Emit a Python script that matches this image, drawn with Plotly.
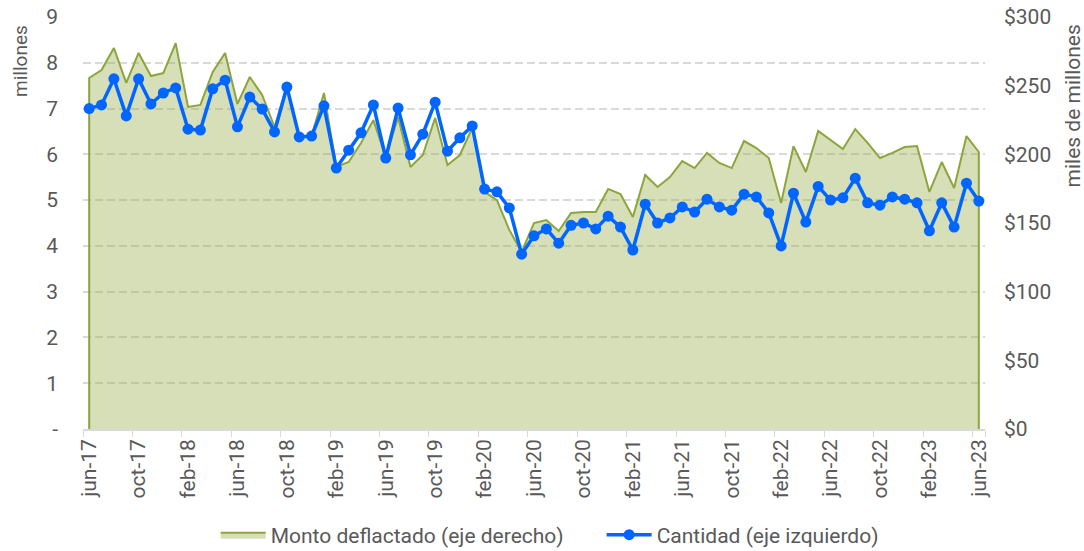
import pandas as pd
import plotly.graph_objects as go

# meses jun-17 .. jun-23
meses_es = ['ene', 'feb', 'mar', 'abr', 'may', 'jun', 'jul', 'ago', 'sep', 'oct', 'nov', 'dic']
fechas = pd.date_range('2017-06-01', '2023-06-01', freq='MS')
categorias = [f"{meses_es[d.month - 1]}-{d.strftime('%y')}" for d in fechas]

# Cantidad (millones, eje izquierdo)
cantidad = [7.00, 7.08, 7.65, 6.84, 7.65, 7.10, 7.34, 7.45, 6.55, 6.53, 7.43, 7.62,
            6.60, 7.25, 6.99, 6.49, 7.47, 6.38, 6.40, 7.06, 5.70, 6.09, 6.47, 7.08,
            5.92, 7.01, 5.99, 6.44, 7.14, 6.07, 6.36, 6.62, 5.24, 5.18, 4.83, 3.82,
            4.22, 4.37, 4.06, 4.45, 4.50, 4.37, 4.65, 4.41, 3.91, 4.91, 4.50, 4.61,
            4.85, 4.74, 5.02, 4.85, 4.78, 5.13, 5.07, 4.72, 4.00, 5.15, 4.52, 5.30,
            5.00, 5.05, 5.48, 4.94, 4.89, 5.07, 5.02, 4.94, 4.33, 4.94, 4.41, 5.37,
            4.98]

# Monto deflactado (miles de millones, eje derecho)
monto = [255.6, 261.4, 277.4, 252.0, 273.8, 257.0, 259.2, 281.0, 234.5, 236.0, 260.0, 273.8,
         236.7, 256.3, 243.2, 219.9, 249.5, 212.6, 213.3, 244.7, 190.8, 194.4, 208.3, 225.0,
         198.0, 227.0, 190.8, 199.5, 226.5, 192.2, 199.5, 219.2, 172.6, 166.7, 145.0, 128.9,
         150.0, 152.2, 144.2, 157.3, 158.0, 158.0, 174.8, 171.1, 154.4, 185.0, 176.2, 183.5,
         195.1, 190.0, 201.0, 193.7, 190.0, 209.7, 204.6, 197.3, 164.6, 206.0, 187.1, 217.0,
         210.4, 203.9, 218.4, 208.3, 197.3, 201.0, 205.3, 206.0, 172.6, 194.4, 175.5, 213.3,
         201.7]

etiquetas_x = categorias[::4]
ticks_izq = list(range(0, 10))
texto_izq = ['-'] + [str(v) for v in ticks_izq[1:]]
ticks_der = list(range(0, 301, 50))
texto_der = [f'${v}' for v in ticks_der]

gris = '#595959'
verde = '#8ca53c'
azul = '#0066ff'
fs = 21

fig = go.Figure()

# area cerrada hasta cero en los extremos (como en Excel)
fig.add_trace(go.Scatter(
    x=[categorias[0]] + categorias + [categorias[-1]],
    y=[0] + monto + [0],
    mode='lines',
    fill='tozeroy',
    fillcolor='rgba(152,175,75,0.4)',
    line=dict(color=verde, width=2),
    name='Monto deflactado (eje derecho)',
    yaxis='y',
))

fig.add_trace(go.Scatter(
    x=categorias,
    y=cantidad,
    mode='lines+markers',
    line=dict(color=azul, width=3.5),
    marker=dict(color=azul, size=11),
    name='Cantidad (eje izquierdo)',
    yaxis='y2',
))

fig.update_layout(
    width=1084, height=551,
    margin=dict(l=83, r=99, t=17, b=122),
    paper_bgcolor='white', plot_bgcolor='white',
    font=dict(family='Roboto', size=fs, color=gris),
    showlegend=True,
    legend=dict(orientation='h', x=0.575, xanchor='center', yref='container', y=0.029,
                yanchor='middle', entrywidth=326, itemwidth=45,
                font=dict(size=fs, color=gris), traceorder='normal'),
    xaxis=dict(type='category', categoryorder='array', categoryarray=categorias,
               range=[-0.5, len(categorias) - 0.5], automargin=False,
               tickvals=etiquetas_x, ticktext=etiquetas_x, tickangle=-90,
               tickson='boundaries', ticks='outside', ticklen=6, tickcolor='#d9d9d9',
               showline=True, linecolor='#d9d9d9', linewidth=1.5,
               showgrid=False, tickfont=dict(size=fs, color=gris)),
    yaxis=dict(side='right', range=[0, 300], tickvals=ticks_der, ticktext=texto_der,
               showgrid=False, zeroline=False, ticklabelstandoff=18, automargin=False,
               tickfont=dict(size=fs, color=gris)),
    yaxis2=dict(overlaying='y', side='left', range=[0, 9], tickvals=ticks_izq, ticktext=texto_izq,
                showgrid=True, gridcolor='#d9d9d9', griddash='8px,4px', gridwidth=2,
                zeroline=False, ticklabelstandoff=24, automargin=False,
                tickfont=dict(size=fs, color=gris)),
    annotations=[
        dict(text='millones', xref='paper', yref='paper', x=-0.07, y=0.893,
             xanchor='center', yanchor='middle',
             textangle=-90, showarrow=False, font=dict(size=19, color=gris)),
        dict(text='miles de millones', xref='paper', yref='paper', x=1.097, y=0.784,
             xanchor='center', yanchor='middle',
             textangle=-90, showarrow=False, font=dict(size=fs, color=gris)),
    ],
)

# quitar el margen por defecto del body para que la figura quede en (0,0)
fig.write_html('out.html', config={'displayModeBar': False},
               post_script="document.body.style.margin='0';")
